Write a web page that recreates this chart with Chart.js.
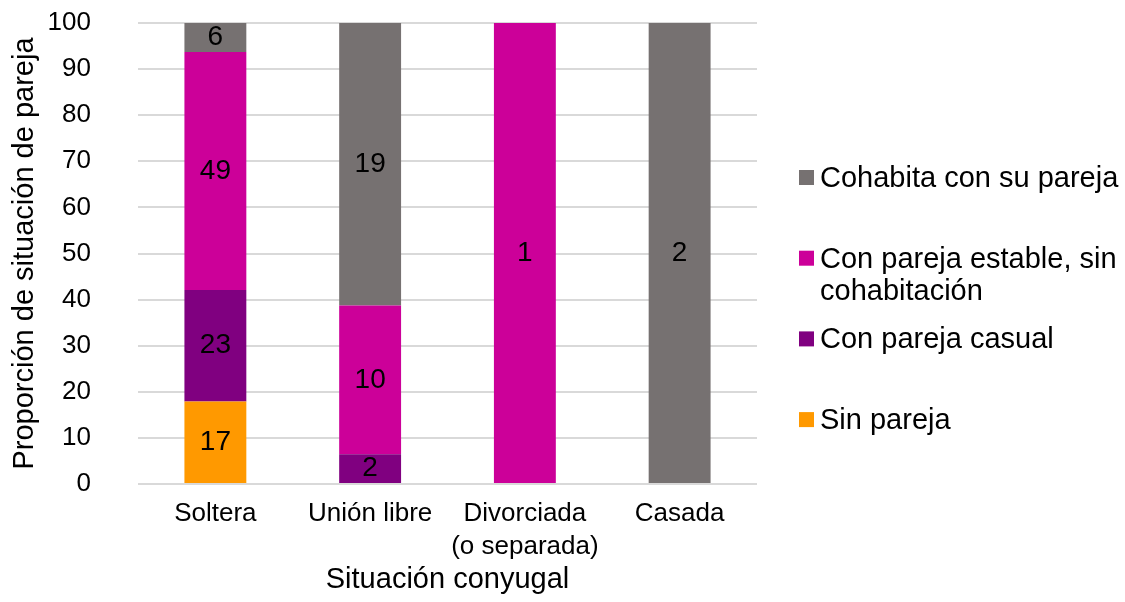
<!DOCTYPE html>
<html>
<head>
<meta charset="utf-8">
<script src="https://cdn.jsdelivr.net/npm/chart.js@4.4.0/dist/chart.umd.min.js"></script>
<style>
  html, body { margin: 0; padding: 0; background: #fff; }
  #wrap { width: 1125px; height: 602px; }
</style>
</head>
<body>
<div id="wrap"><canvas id="chart" width="1125" height="602"></canvas></div>
<script>
// --- DATOS ---
const categories = ['Soltera', 'Unión libre', ['Divorciada', '(o separada)'], 'Casada'];

// conteos de cada segmento (de abajo hacia arriba)
const sinPareja     = [17, 0, 0, 0];
const parejaCasual  = [23, 2, 0, 0];
const parejaEstable = [49, 10, 1, 0];
const cohabita      = [6, 19, 0, 2];

const seriesNames  = ['Sin pareja', 'Con pareja casual', 'Con pareja estable, sin cohabitación', 'Cohabita con su pareja'];
const seriesColors = ['#FF9900', '#800080', '#CC0099', '#767171'];

const yMin = 0, yMax = 100, yStep = 10;
const yTitle = 'Proporción de situación de pareja';
const xTitle = 'Situación conyugal';

const FONT = '"Liberation Sans", Arial, sans-serif';

// totales por categoría -> proporción (100%)
const allCounts = [sinPareja, parejaCasual, parejaEstable, cohabita];
const totals = categories.map((c, i) => allCounts.reduce((s, arr) => s + arr[i], 0));
const toShare = arr => arr.map((v, i) => totals[i] ? v / totals[i] * 100 : 0);

// --- PLUGINS ---
// numero de casos en el centro de cada segmento
const segmentLabels = {
    id: 'segmentLabels',
    afterDatasetsDraw(chart) {
        const ctx = chart.ctx;
        ctx.save();
        ctx.font = '28px ' + FONT;
        ctx.fillStyle = '#000';
        ctx.textAlign = 'center';
        ctx.textBaseline = 'middle';
        chart.data.datasets.forEach((ds, di) => {
            chart.getDatasetMeta(di).data.forEach((bar, i) => {
                const n = ds.counts[i];
                if (!n) return;
                const p = bar.getProps(['x', 'y', 'base'], true);
                ctx.fillText(String(n), p.x, (p.y + p.base) / 2);
            });
        });
        ctx.restore();
    }
};

function wrapText(ctx, text, maxW) {
    const words = text.split(' ');
    let lines = [], cur = '';
    words.forEach(w => {
        const t = cur ? cur + ' ' + w : w;
        if (ctx.measureText(t).width > maxW && cur) { lines.push(cur); cur = w; }
        else cur = t;
    });
    if (cur) lines.push(cur);
    return lines;
}

// leyenda a la derecha (orden invertido como en Excel)
const sideLegend = {
    id: 'sideLegend',
    afterDraw(chart) {
        const ctx = chart.ctx;
        ctx.save();
        ctx.font = '29px ' + FONT;
        ctx.textBaseline = 'middle';
        ctx.textAlign = 'left';
        const items = chart.data.datasets.slice().reverse();
        items.forEach((ds, k) => {
            const cy = 178 + k * 80.7;
            ctx.fillStyle = ds.backgroundColor;
            ctx.fillRect(799, cy - 8, 15, 15);
            ctx.fillStyle = '#000';
            wrapText(ctx, ds.label, 300).forEach((ln, j) => {
                ctx.fillText(ln, 820, cy + 1 + j * 32);
            });
        });
        ctx.restore();
    }
};

// --- CHART ---
Chart.defaults.font.family = FONT;
Chart.defaults.color = '#000';

const ctx = document.getElementById('chart').getContext('2d');
const chart = new Chart(ctx, {
    type: 'bar',
    data: {
        labels: categories,
        datasets: allCounts.map((arr, k) => ({
            label: seriesNames[k],
            data: toShare(arr),
            counts: arr,
            backgroundColor: seriesColors[k],
            borderWidth: 0,
            barPercentage: 0.4,
            categoryPercentage: 1.0
        }))
    },
    options: {
        responsive: false,
        animation: false,
        layout: { padding: { top: 23, right: 368, left: 0, bottom: 0 } },
        plugins: {
            legend: { display: false },
            tooltip: { enabled: false }
        },
        scales: {
            x: {
                stacked: true,
                grid: { display: false, drawTicks: false },
                border: { display: false },
                ticks: { font: { size: 26, lineHeight: 1.25 }, padding: 14, color: '#000', maxRotation: 0 },
                title: { display: true, text: xTitle, font: { size: 29 }, color: '#000', padding: { top: 0, bottom: 5 } },
                afterFit: s => { s.height = 118; }
            },
            y: {
                stacked: true,
                min: yMin,
                max: yMax,
                grid: { color: '#d9d9d9', lineWidth: 2, drawTicks: false },
                border: { display: false },
                ticks: { stepSize: yStep, font: { size: 26 }, padding: 47, color: '#000' },
                title: { display: true, text: yTitle, font: { size: 29 }, color: '#000', padding: { top: 8, bottom: 0 } },
                afterFit: s => {
                    s.width = 138;
                    // la separación de los ticks no debe empujar el área del gráfico
                    s.paddingTop = 14;
                    s.paddingBottom = 14;
                }
            }
        }
    },
    plugins: [segmentLabels, sideLegend]
});
</script>
</body>
</html>
